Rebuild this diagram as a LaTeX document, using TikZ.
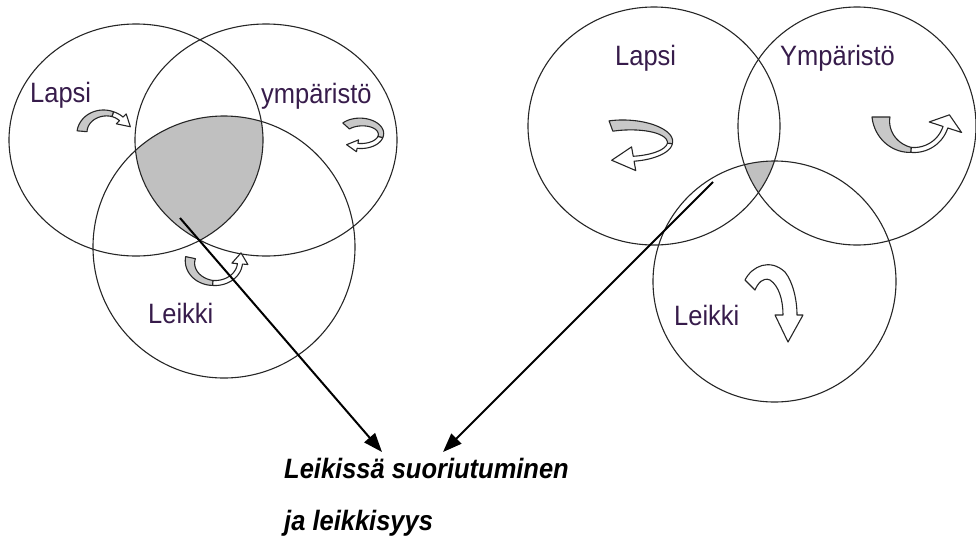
\documentclass[tikz,border=0pt]{standalone}
\usepackage{fontspec}
\setmainfont{Liberation Sans}[FakeStretch=0.91]
\usetikzlibrary{arrows.meta,calc}
\definecolor{labelc}{RGB}{55,28,75}
\definecolor{shadec}{RGB}{192,192,192}
\definecolor{ribbongray}{RGB}{200,200,200}
\tikzset{
  ring/.style={draw=black!85, line width=1.1pt},
  ribbon/.style={draw=black!85, line width=1.1pt, line join=round},
  lab/.style={inner sep=0pt, anchor=base west, text=labelc, font=\fontsize{28}{34}\selectfont},
  caption/.style={inner sep=0pt, anchor=base west, text=black, font=\fontsize{28}{34}\selectfont\bfseries\itshape},
  conn/.style={draw=black, line width=2pt, -{Triangle[length=19pt,width=14pt]}}
}
\pgfkeys{/tw/.cd,
 cx/.store in=\twcx, cy/.store in=\twcy, rx/.store in=\twrx, ry/.store in=\twry,
 a1/.store in=\twa, am/.store in=\twm, a2/.store in=\twb,
 wg/.store in=\twwg, wm/.store in=\twwm, h/.store in=\twh, L/.store in=\twL}
\newcommand\twarrow[1]{%
 \pgfkeys{/tw/.cd,#1}%
 \pgfmathsetmacro\tws{\twb>\twm ? 1 : -1}%
 \pgfmathsetmacro\twbx{\twcx+\twrx*cos(\twb)}%
 \pgfmathsetmacro\twby{\twcy+\twry*sin(\twb)}%
 \pgfmathsetmacro\twtx{-1*(\tws)*\twrx*sin(\twb)}%
 \pgfmathsetmacro\twty{(\tws)*\twry*cos(\twb)}%
 \pgfmathsetmacro\twn{sqrt((\twtx)*(\twtx)+(\twty)*(\twty))}%
 \pgfmathsetmacro\twpx{\twbx+\twL*(\twtx)/\twn}%
 \pgfmathsetmacro\twpy{\twby+\twL*(\twty)/\twn}%
 \filldraw[ribbon, fill=ribbongray]
   plot[domain=\twa:\twm, samples=30, variable=\t]
     ({\twcx+(\twrx+(\twwg+(\twwm-\twwg)*(\t-\twa)/(\twm-\twa))/2)*cos(\t)},
      {\twcy+(\twry+(\twwg+(\twwm-\twwg)*(\t-\twa)/(\twm-\twa))/2)*sin(\t)})
   -- plot[domain=\twm:\twa, samples=30, variable=\t]
     ({\twcx+(\twrx-(\twwg+(\twwm-\twwg)*(\t-\twa)/(\twm-\twa))/2)*cos(\t)},
      {\twcy+(\twry-(\twwg+(\twwm-\twwg)*(\t-\twa)/(\twm-\twa))/2)*sin(\t)})
   -- cycle;
 \filldraw[ribbon, fill=white]
   plot[domain=\twm:\twb, samples=30, variable=\t]
     ({\twcx+(\twrx+\twwm/2)*cos(\t)},{\twcy+(\twry+\twwm/2)*sin(\t)})
   -- ({\twcx+(\twrx+\twh)*cos(\twb)},{\twcy+(\twry+\twh)*sin(\twb)})
   -- (\twpx,\twpy)
   -- ({\twcx+(\twrx-\twh)*cos(\twb)},{\twcy+(\twry-\twh)*sin(\twb)})
   -- plot[domain=\twb:\twm, samples=30, variable=\t]
     ({\twcx+(\twrx-\twwm/2)*cos(\t)},{\twcy+(\twry-\twwm/2)*sin(\t)})
   -- cycle;
}
\begin{document}
\begin{tikzpicture}[x=1pt,y=-1pt]
\useasboundingbox (0,0) rectangle (976,539);

% ---------- left diagram: shaded triple intersection ----------
\begin{scope}
  \clip (136,140) ellipse [x radius=127, y radius=116];
  \clip (266,140) ellipse [x radius=131, y radius=116];
  \fill[shadec] (224,247) ellipse [x radius=131, y radius=131];
\end{scope}
\draw[ring] (136,140) ellipse [x radius=127, y radius=116];
\draw[ring] (266,140) ellipse [x radius=131, y radius=116];
\draw[ring] (224,247) ellipse [x radius=131, y radius=131];

% ---------- right diagram: shaded triple intersection ----------
\begin{scope}
  \clip (654,126) ellipse [x radius=126, y radius=119];
  \clip (857,126) ellipse [x radius=119, y radius=119];
  \fill[shadec] (774.5,281.5) ellipse [x radius=121.5, y radius=120.5];
\end{scope}
\draw[ring] (654,126) ellipse [x radius=126, y radius=119];
\draw[ring] (857,126) ellipse [x radius=119, y radius=119];
\draw[ring] (774.5,281.5) ellipse [x radius=121.5, y radius=120.5];

% ---------- labels ----------
\node[lab] (lapsiL) at (30,102) {Lapsi};
\node[lab] (ympL) at (261,103) {ympäristö};
\node[lab] (leikkiL) at (148,323) {Leikki};
\node[lab] (lapsiR) at (615,65) {Lapsi};
\node[lab] (ympR) at (780,65) {Ympäristö};
\node[lab] (leikkiR) at (674,325) {Leikki};

% ---------- curved block arrows ----------
\twarrow{cx=105,cy=133,rx=23,ry=20,a1=185,am=290,a2=315,wg=10,wm=5,h=7,L=12}
\twarrow{cx=361,cy=134,rx=20,ry=12,a1=222,am=375,a2=460,wg=9,wm=5,h=6,L=11}
\twarrow{cx=215,cy=262,rx=25,ry=21,a1=192,am=95,a2=5,wg=10,wm=5,h=8,L=11}
\twarrow{cx=626,cy=142,rx=44,ry=17,a1=250,am=365,a2=440,wg=11,wm=5,h=12,L=22}
\twarrow{cx=914,cy=117,rx=33,ry=33,a1=180,am=95,a2=18,wg=18,wm=5,h=17,L=13}
% right Leikki arrow (white)
\filldraw[ribbon, fill=white]
  (745,280) .. controls (752,266) and (770,258) .. (785,272)
  .. controls (793,282) and (797,300) .. (797,315)
  -- (803,315) -- (788,342) -- (775,315) -- (783,315)
  .. controls (783,300) and (779,286) .. (770,280)
  .. controls (763,277) and (758,283) .. (755,290) -- cycle;

% ---------- caption and connectors ----------
\node[caption] (cap1) at (284,478) {Leikissä suoriutuminen};
\node[caption] (cap2) at (284,530) {ja leikkisyys};
\coordinate (s1) at (180,218);
\coordinate (t1) at (382,452);
\coordinate (s2) at (713,182);
\coordinate (t2) at (443,452);
\draw[conn] (s1) -- (t1);
\draw[conn] (s2) -- (t2);
\end{tikzpicture}
\end{document}
